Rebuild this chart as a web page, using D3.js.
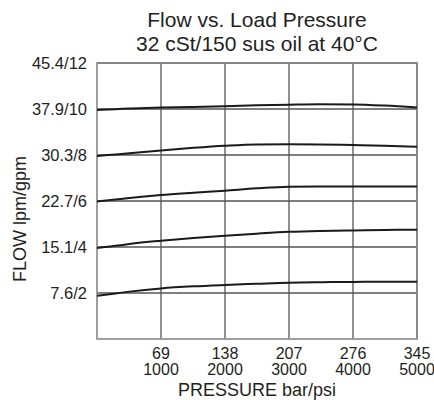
<!DOCTYPE html>
<html>
<head>
<meta charset="utf-8">
<script src="https://cdn.jsdelivr.net/npm/d3@7"></script>
<style>
  body { margin: 0; background: #fff; }
  text { font-family: "Liberation Sans", Arial, sans-serif; fill: #231f20; }
</style>
</head>
<body>
<div id="chart"></div>
<script>
// Chart data (pressure in bar, flow in gpm)
var pressure = [0, 20, 35, 69, 104, 138, 172, 207, 240, 276, 310, 345];
var flow10 = [9.96, 9.99, 10.02, 10.06, 10.09, 10.12, 10.16, 10.19, 10.21, 10.2, 10.15, 10.07];
var flow8 = [7.96, 8.02, 8.08, 8.2, 8.31, 8.4, 8.46, 8.47, 8.46, 8.43, 8.4, 8.36];
var flow6 = [5.98, 6.06, 6.13, 6.26, 6.36, 6.45, 6.55, 6.62, 6.63, 6.63, 6.63, 6.63];
var flow4 = [3.96, 4.05, 4.13, 4.27, 4.39, 4.49, 4.58, 4.66, 4.7, 4.72, 4.74, 4.75];
var flow2 = [1.88, 1.98, 2.06, 2.2, 2.29, 2.35, 2.4, 2.45, 2.47, 2.48, 2.49, 2.49];
var series = [flow10, flow8, flow6, flow4, flow2];

var xTicks = [69, 138, 207, 276, 345];
var xTickPsi = ["1000", "2000", "3000", "4000", "5000"];
var yTicks = [2, 4, 6, 8, 10, 12];
var yTickLabels = ["7.6/2", "15.1/4", "22.7/6", "30.3/8", "37.9/10", "45.4/12"];

var svgWidth = 434;
var svgHeight = 400;
var margin = { top: 63, right: 17, bottom: 61, left: 97 };
var width = svgWidth - margin.left - margin.right;
var height = svgHeight - margin.top - margin.bottom;

var svg = d3.select("#chart")
  .append("svg")
  .attr("width", svgWidth)
  .attr("height", svgHeight);

var chartGroup = svg.append("g")
  .attr("transform", `translate(${margin.left}, ${margin.top})`);

var xScale = d3.scaleLinear().domain([0, 345]).range([0, width]);
var yScale = d3.scaleLinear().domain([0, 12]).range([height, 0]);

// grid lines
chartGroup.selectAll(".vgrid")
  .data(xTicks)
  .enter()
  .append("line")
  .attr("x1", d => xScale(d))
  .attr("x2", d => xScale(d))
  .attr("y1", 0)
  .attr("y2", height)
  .attr("stroke", "#555")
  .attr("stroke-width", 1.3);

chartGroup.selectAll(".hgrid")
  .data(yTicks)
  .enter()
  .append("line")
  .attr("x1", 0)
  .attr("x2", width)
  .attr("y1", d => yScale(d))
  .attr("y2", d => yScale(d))
  .attr("stroke", "#555")
  .attr("stroke-width", 1.3);

// frame
chartGroup.append("rect")
  .attr("width", width)
  .attr("height", height)
  .attr("fill", "none")
  .attr("stroke", "#888")
  .attr("stroke-width", 1.6);

// curves
var line = d3.line()
  .x((d, i) => xScale(pressure[i]))
  .y(d => yScale(d))
  .curve(d3.curveMonotoneX);

chartGroup.selectAll(".curve")
  .data(series)
  .enter()
  .append("path")
  .attr("d", line)
  .attr("fill", "none")
  .attr("stroke", "#1a1a1a")
  .attr("stroke-width", 2);

// y tick labels
chartGroup.selectAll(".ylab")
  .data(yTicks)
  .enter()
  .append("text")
  .attr("x", -10)
  .attr("y", d => yScale(d))
  .attr("dy", "0.35em")
  .attr("text-anchor", "end")
  .style("font-size", "16.5px")
  .text((d, i) => yTickLabels[i]);

// x tick labels (bar over psi)
var xLab = chartGroup.selectAll(".xlab")
  .data(xTicks)
  .enter()
  .append("text")
  .attr("text-anchor", "middle")
  .style("font-size", "16px");

xLab.append("tspan")
  .attr("x", d => xScale(d))
  .attr("y", height + 20)
  .text(d => d);

xLab.append("tspan")
  .attr("x", d => xScale(d))
  .attr("y", height + 36)
  .text((d, i) => xTickPsi[i]);

// axis titles
chartGroup.append("text")
  .attr("x", width / 2)
  .attr("y", height + 57)
  .attr("text-anchor", "middle")
  .style("font-size", "18px")
  .text("PRESSURE bar/psi");

svg.append("text")
  .attr("transform", "translate(26, 219) rotate(-90)")
  .attr("text-anchor", "middle")
  .style("font-size", "18px")
  .text("FLOW lpm/gpm");

// title
svg.append("text")
  .attr("x", margin.left + width / 2)
  .attr("y", 27)
  .attr("text-anchor", "middle")
  .style("font-size", "21px")
  .text("Flow vs. Load Pressure");

svg.append("text")
  .attr("x", margin.left + width / 2)
  .attr("y", 51)
  .attr("text-anchor", "middle")
  .style("font-size", "21px")
  .text("32 cSt/150 sus oil at 40°C");
</script>
</body>
</html>
